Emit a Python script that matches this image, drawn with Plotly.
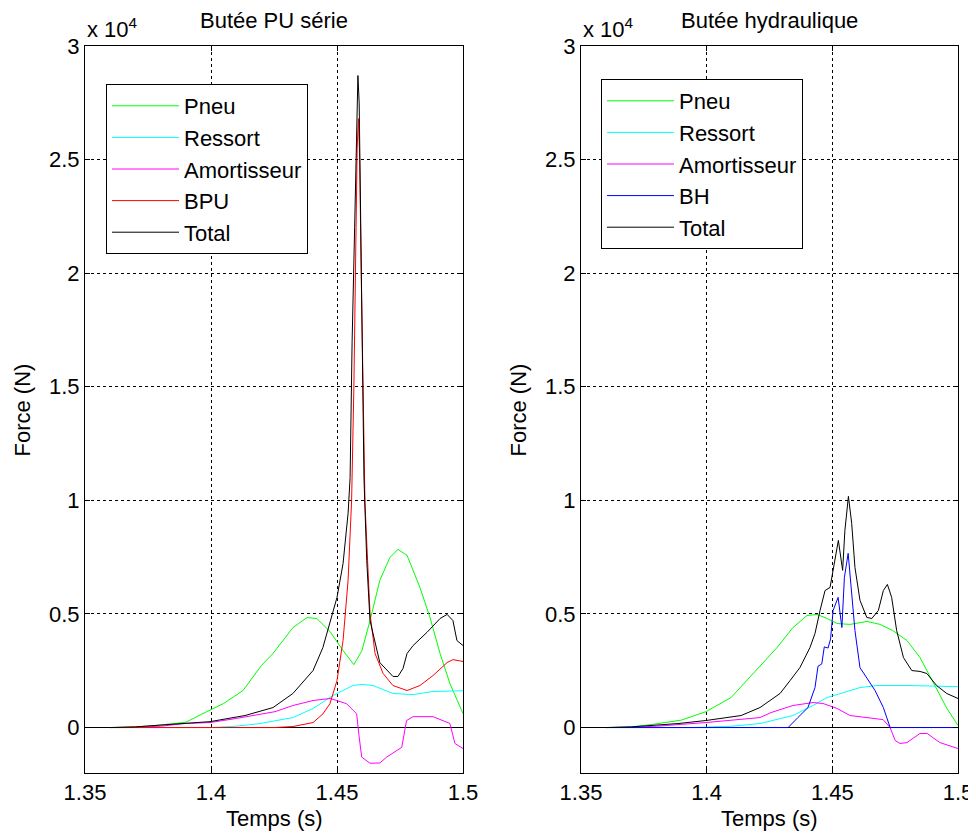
import plotly.graph_objects as go

# ---------------- Data (Force in N, time in s) ----------------
# Left panel: Butée PU série
pneu_t_L = [1.36, 1.37, 1.378, 1.39, 1.3984, 1.405, 1.4127, 1.42, 1.4246, 1.4325, 1.4381, 1.442, 1.4472,
            1.4524, 1.4567, 1.4599, 1.4631, 1.467, 1.471, 1.4742, 1.4778, 1.4829, 1.4869, 1.4909, 1.4948, 1.5]
pneu_L = [0, 30, 90, 235, 705, 1060, 1630, 2730, 3260, 4400, 4840, 4800, 4230,
          3390, 2770, 3390, 4710, 6480, 7490, 7840, 7580, 6170, 4850, 3260, 1940, 615]

ressort_t_L = [1.36, 1.4, 1.41, 1.4194, 1.4325, 1.4405, 1.4484, 1.4563, 1.46, 1.4643, 1.4722, 1.4802, 1.4881, 1.5]
ressort_L = [0, 0, 60, 176, 440, 840, 1410, 1850, 1900, 1850, 1500, 1450, 1590, 1620]

amort_t_L = [1.36, 1.37, 1.38, 1.3897, 1.3996, 1.41, 1.4254, 1.4325, 1.4405, 1.4472, 1.4499, 1.4538,
             1.4565, 1.4578, 1.4588, 1.4598, 1.4631, 1.467, 1.4697, 1.475, 1.4757, 1.4776, 1.4802,
             1.4881, 1.4948, 1.4968, 1.5]
amort_L = [0, 10, 60, 176, 220, 400, 700, 970, 1190, 1280, 1190, 1050,
           750, 600, -420, -1300, -1570, -1560, -1300, -930, -870, 310, 480,
           480, 180, -700, -925]

bpu_t_L = [1.36, 1.425, 1.4325, 1.4405, 1.4444, 1.4472, 1.45, 1.4524, 1.4544, 1.4558, 1.4567, 1.4574,
           1.458, 1.4585, 1.459, 1.4596, 1.4603, 1.4611, 1.4619, 1.4631, 1.4651, 1.4683, 1.4722,
           1.4778, 1.4829, 1.4881, 1.4937, 1.496, 1.5]
bpu_L = [0, 0, 44, 220, 600, 1050, 2070, 3830, 6480, 10000, 15000, 21000,
         25500, 26800, 25000, 20000, 14700, 9870, 7930, 5020, 3260, 2380, 1850,
         1630, 1850, 2290, 2860, 2990, 2910]

total_t_L = [1.36, 1.37, 1.3885, 1.3996, 1.4135, 1.4246, 1.4325, 1.4405, 1.4444, 1.4472, 1.45, 1.4524,
             1.4544, 1.4552, 1.456, 1.457, 1.4578, 1.4583, 1.4588, 1.4594, 1.46, 1.4607, 1.4618,
             1.4631, 1.467, 1.4722, 1.4742, 1.4762, 1.4778, 1.4802, 1.4857, 1.4909, 1.4937,
             1.496, 1.4976, 1.5]
total_L = [0, 30, 176, 260, 530, 880, 1500, 2510, 3520, 4580, 5730, 7220,
           9430, 11000, 17000, 22000, 27000, 28700, 27500, 22000, 16000, 11000, 7350,
           4710, 2860, 2250, 2250, 2600, 3260, 3610, 4190, 4800, 4980,
           4710, 3830, 3610]

# Right panel: Butée hydraulique
pneu_t_R = [1.36, 1.37, 1.3779, 1.39, 1.3997, 1.4097, 1.4216, 1.428, 1.4343, 1.4399, 1.4439, 1.4479,
            1.4519, 1.457, 1.4638, 1.469, 1.4741, 1.4797, 1.4849, 1.4877, 1.4917, 1.4956, 1.5]
pneu_R = [0, 30, 130, 330, 700, 1320, 2750, 3520, 4400, 4930, 4980, 4800,
          4580, 4540, 4670, 4540, 4270, 3830, 3080, 2510, 1630, 840, 90]

ressort_t_R = [1.36, 1.395, 1.41, 1.4212, 1.4343, 1.4423, 1.4479, 1.4542, 1.461, 1.4678, 1.4809, 1.5]
ressort_R = [0, 0, 60, 176, 530, 970, 1320, 1540, 1760, 1850, 1850, 1800]

amort_t_R = [1.36, 1.37, 1.38, 1.3898, 1.3997, 1.4212, 1.4256, 1.4343, 1.4423, 1.4463, 1.4519, 1.457,
             1.4638, 1.4702, 1.473, 1.475, 1.4769, 1.4797, 1.4849, 1.4877, 1.4928, 1.5]
amort_R = [0, 10, 60, 130, 220, 440, 660, 970, 1100, 1060, 840, 530,
           440, 350, 0, -570, -700, -660, -260, -260, -660, -925]

bh_t_R = [1.36, 1.4324, 1.4363, 1.4403, 1.4431, 1.4443, 1.4458, 1.4468, 1.4483, 1.4493, 1.4503, 1.4523,
          1.4538, 1.4548, 1.4563, 1.4576, 1.459, 1.461, 1.4637, 1.467, 1.4703, 1.473, 1.5]
bh_R = [0, 0, 440, 880, 1760, 2700, 2800, 3550, 3500, 3900, 5150, 5730,
        4400, 6610, 7670, 6030, 4270, 2640, 2200, 1630, 880, 0, 0]

total_t_R = [1.36, 1.37, 1.3886, 1.3997, 1.4137, 1.4212, 1.4252, 1.4292, 1.4332, 1.4371, 1.4411, 1.4431,
             1.4451, 1.4471, 1.4491, 1.4504, 1.4524, 1.4541, 1.455, 1.4564, 1.4577, 1.459, 1.461,
             1.4637, 1.4657, 1.4683, 1.4703, 1.4719, 1.4736, 1.4756, 1.4783, 1.4816, 1.4849,
             1.4876, 1.4915, 1.4955, 1.5]
total_R = [0, 30, 176, 310, 530, 880, 1190, 1500, 2070, 2640, 3520, 4140,
           5150, 6030, 6170, 7050, 8240, 6920, 8680, 10180, 8990, 7050, 5600,
           4850, 4800, 5150, 6030, 6300, 5730, 4270, 3080, 2510, 2470,
           2380, 1850, 1500, 1280]

x_ticks = [1.35, 1.4, 1.45, 1.5]
x_tick_text = ["1.35", "1.4", "1.45", "1.5"]
y_ticks = [0, 5000, 10000, 15000, 20000, 25000, 30000]
y_tick_text = ["0", "0.5", "1", "1.5", "2", "2.5", "3"]

# ---------------- Figure ----------------
FONT = "Liberation Sans, Arial, sans-serif"
GREEN, CYAN, MAGENTA, RED, BLUE, BLACK = "#00ff00", "#00ffff", "#ff00ff", "#ff0000", "#0000ff", "#000000"

fig = go.Figure()

def add(t, v, name, color, xa, ya, legend):
    fig.add_trace(go.Scatter(x=t, y=v, name=name, mode="lines",
                             line=dict(color=color, width=1),
                             xaxis=xa, yaxis=ya, legend=legend))

add(pneu_t_L, pneu_L, "Pneu", GREEN, "x", "y", "legend")
add(ressort_t_L, ressort_L, "Ressort", CYAN, "x", "y", "legend")
add(amort_t_L, amort_L, "Amortisseur", MAGENTA, "x", "y", "legend")
add(bpu_t_L, bpu_L, "BPU", RED, "x", "y", "legend")
add(total_t_L, total_L, "Total", BLACK, "x", "y", "legend")

add(pneu_t_R, pneu_R, "Pneu", GREEN, "x2", "y2", "legend2")
add(ressort_t_R, ressort_R, "Ressort", CYAN, "x2", "y2", "legend2")
add(amort_t_R, amort_R, "Amortisseur", MAGENTA, "x2", "y2", "legend2")
add(bh_t_R, bh_R, "BH", BLUE, "x2", "y2", "legend2")
add(total_t_R, total_R, "Total", BLACK, "x2", "y2", "legend2")

# The page body has an 8px margin: size the figure so it fits in the window
OFF = 8
W, H = 976 - OFF, 834 - OFF


def px(p):  # screen x pixel -> paper x
    return (p - OFF) / W


def py(p):  # screen y pixel -> paper y
    return 1 - (p - OFF) / H


yd = [py(773), py(46)]
xdL = [px(85), px(463)]
xdR = [px(581), px(958)]

axis_common = dict(showline=True, linecolor="black", linewidth=1, mirror="ticks",
                   ticks="inside", ticklen=5, tickcolor="black", automargin=False,
                   showgrid=True, gridcolor="black", gridwidth=1, griddash="dot",
                   tickfont=dict(family=FONT, size=22, color="black"))

xcommon = dict(axis_common, range=[1.35, 1.5], tickvals=x_ticks, ticktext=x_tick_text,
               zeroline=False, ticklabelstandoff=0)
ycommon = dict(axis_common, range=[-2000, 30000], tickvals=y_ticks, ticktext=y_tick_text,
               zeroline=True, zerolinecolor="black", zerolinewidth=1, ticklabelstandoff=0)

legend_common = dict(bgcolor="white", bordercolor="black", borderwidth=1,
                     font=dict(family=FONT, size=22, color="black"),
                     xanchor="left", yanchor="top", itemwidth=67, tracegroupgap=0)

fig.update_layout(
    width=W, height=H,
    margin=dict(l=0, r=0, t=0, b=0, autoexpand=False),
    paper_bgcolor="white", plot_bgcolor="white",
    font=dict(family=FONT, size=22, color="black"),
    xaxis=dict(xcommon, domain=xdL, anchor="y"),
    yaxis=dict(ycommon, domain=yd, anchor="x"),
    xaxis2=dict(xcommon, domain=xdR, anchor="y2"),
    yaxis2=dict(ycommon, domain=yd, anchor="x2"),
    legend=dict(legend_common, x=px(106), y=py(84)),
    legend2=dict(legend_common, x=px(601), y=py(79)),
    showlegend=True,
)

ann = []
for xd, title in [(xdL, "Butée PU série"), (xdR, "Butée hydraulique")]:
    cx = (xd[0] + xd[1]) / 2
    ann.append(dict(text=title, x=cx, y=py(20), xref="paper", yref="paper",
                    showarrow=False, xanchor="center", yanchor="middle",
                    font=dict(family=FONT, size=22)))
    ann.append(dict(text="x 10<sup>4</sup>", x=xd[0], y=py(28), xref="paper", yref="paper",
                    showarrow=False, xanchor="left", yanchor="middle",
                    font=dict(family=FONT, size=22)))
    ann.append(dict(text="Temps (s)", x=cx, y=py(818), xref="paper", yref="paper",
                    showarrow=False, xanchor="center", yanchor="middle",
                    font=dict(family=FONT, size=22)))
    ann.append(dict(text="Force (N)", x=xd[0] - 63 / W, y=(yd[0] + yd[1]) / 2, xref="paper", yref="paper",
                    showarrow=False, xanchor="center", yanchor="middle", textangle=-90,
                    font=dict(family=FONT, size=22)))
fig.update_layout(annotations=ann)

fig.write_html("out.html")
